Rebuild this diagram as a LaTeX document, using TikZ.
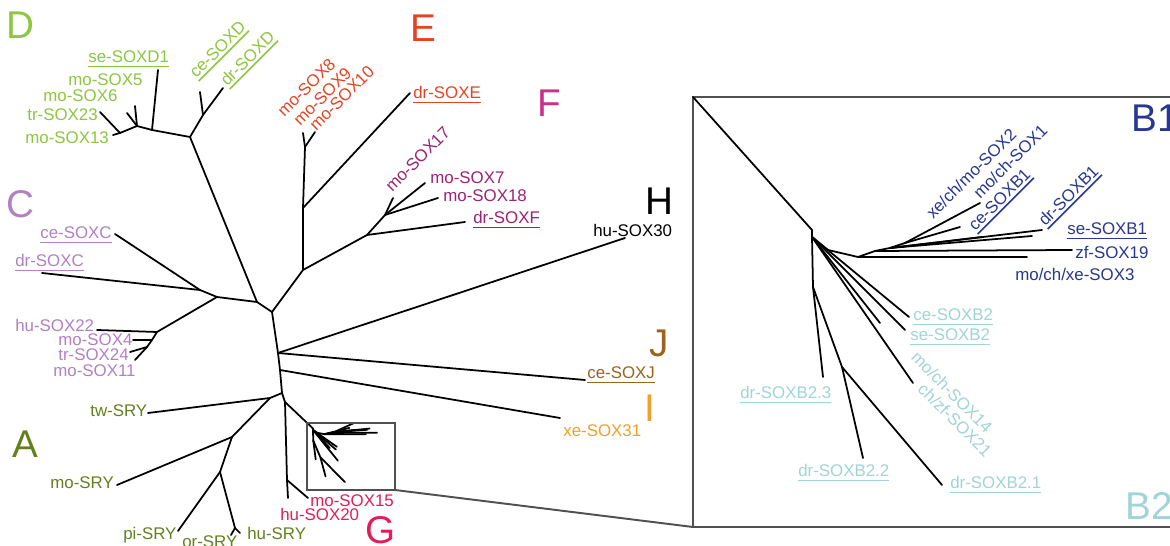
\documentclass[tikz,border=0pt]{standalone}
\usepackage{fontspec}
\setmainfont{Liberation Sans}
\definecolor{cD}{RGB}{141,198,63}
\definecolor{cE}{RGB}{228,68,35}
\definecolor{cFl}{RGB}{200,50,140}
\definecolor{cF}{RGB}{155,35,115}
\definecolor{cC}{RGB}{178,128,195}
\definecolor{cA}{RGB}{100,128,30}
\definecolor{cG}{RGB}{225,30,90}
\definecolor{cJ}{RGB}{155,100,25}
\definecolor{cI}{RGB}{240,160,40}
\definecolor{cBa}{RGB}{40,55,145}
\definecolor{cBb}{RGB}{160,212,214}
\definecolor{boxgray}{RGB}{80,80,80}
\newcommand\ulab[1]{\setbox0\hbox{#1}\rlap{\rule[-2.4pt]{\wd0}{0.9pt}}\box0}
\newcommand\btree[1]{%
  \coordinate (#1top) at (812,230);
  \coordinate (#1b0) at (812,237);
  \coordinate (#1bv) at (813,287);
  \coordinate (#1bq) at (842,367);
  \coordinate (#1b1) at (828,250);
  \coordinate (#1b2) at (858,257);
  \coordinate (#1b3) at (875,251);
  \coordinate (#1b4) at (890,248);
  \coordinate (#1b5) at (905,243);
  \coordinate (#1e1) at (823,377);
  \coordinate (#1e2) at (863,458);
  \coordinate (#1e3) at (942,485);
  \coordinate (#1e4) at (880,323);
  \coordinate (#1e5) at (905,330);
  \coordinate (#1e6) at (909,317);
  \coordinate (#1e7) at (913,383);
  \coordinate (#1e8) at (1027,257);
  \coordinate (#1e9) at (1072,250);
  \coordinate (#1e10) at (1032,236);
  \coordinate (#1e11) at (1042,230);
  \coordinate (#1e12) at (982,237);
  \coordinate (#1e13) at (960,227);
  \coordinate (#1e14) at (980,203);
  \draw[br] (#1top) -- (#1b0) -- (#1bv) -- (#1e1);
  \draw[br] (#1bv) -- (#1bq) -- (#1e2);
  \draw[br] (#1bq) -- (#1e3);
  \draw[br] (#1b0) -- (#1e4);
  \draw[br] (#1b0) -- (#1e5);
  \draw[br] (#1b0) -- (#1e6);
  \draw[br] (#1b0) -- (#1e7);
  \draw[br] (#1b0) -- (#1b1) -- (#1b2) -- (#1e8);
  \draw[br] (#1b2) -- (#1b3) -- (#1e9);
  \draw[br] (#1b3) -- (#1b4) -- (#1e10);
  \draw[br] (#1b4) -- (#1e11);
  \draw[br] (#1b4) -- (#1e12);
  \draw[br] (#1b4) -- (#1b5) -- (#1e13);
  \draw[br] (#1b5) -- (#1e14);
}
\tikzset{
  br/.style={line width=1pt, black, line cap=round, line join=round},
  lab/.style={font=\fontsize{9.6}{11}\selectfont, inner sep=0pt, anchor=base west},
  rlab/.style={font=\fontsize{9.6}{11}\selectfont, inner sep=0pt},
  big/.style={font=\fontsize{22}{24}\selectfont, inner sep=0pt, anchor=base west},
  bx/.style={line width=1.1pt, draw=boxgray},
}
\begin{document}
\begin{tikzpicture}[x=0.02cm, y=-0.02cm]
\fill[white] (0,0) rectangle (1170,546);
\clip (0,0) rectangle (1170,546);

% ---------- main tree coordinates ----------
\coordinate (X) at (257,302);
\coordinate (R1) at (272,312);
\coordinate (R2) at (303,270);
\coordinate (R3) at (278,353);
\coordinate (R4) at (280,370);
\coordinate (R5) at (282,393);
% D
\coordinate (D0) at (190,137);
\coordinate (D1) at (152,130);
\coordinate (D2) at (137,126);
\coordinate (D3) at (120,133);
\coordinate (D4) at (203,115);
\coordinate (dL1) at (158,70);
\coordinate (dL2) at (135,106);
\coordinate (dL3) at (127,113);
\coordinate (dL4) at (100,112);
\coordinate (dL5) at (113,135);
\coordinate (dL6) at (200,92);
\coordinate (dL7) at (223,88);
% E
\coordinate (E1) at (303,208);
\coordinate (E2) at (305,147);
\coordinate (eL1) at (303,133);
\coordinate (eL2) at (315,132);
\coordinate (eL3) at (410,93);
% F
\coordinate (F1) at (367,235);
\coordinate (F2) at (385,215);
\coordinate (fL1) at (465,222);
\coordinate (fL2) at (393,198);
\coordinate (fL3) at (425,183);
\coordinate (fL4) at (438,198);
% H J I
\coordinate (hL) at (625,238);
\coordinate (jL) at (585,380);
\coordinate (iL) at (560,418);
% C
\coordinate (C0) at (217,297);
\coordinate (C1) at (200,290);
\coordinate (C2) at (157,332);
\coordinate (C3) at (152,340);
\coordinate (C4) at (147,347);
\coordinate (cL1) at (115,234);
\coordinate (cL2) at (42,273);
\coordinate (cL3) at (97,330);
\coordinate (cL4) at (133,340);
\coordinate (cL5) at (130,352);
\coordinate (cL6) at (135,360);
% A
\coordinate (A1) at (270,398);
\coordinate (A2) at (232,437);
\coordinate (A3) at (220,472);
\coordinate (A4) at (235,528);
\coordinate (aL1) at (148,413);
\coordinate (aL2) at (117,485);
\coordinate (aL3) at (178,531);
\coordinate (aL4) at (231,535);
\coordinate (aL5) at (240,533);
% G
\coordinate (G0) at (285,402);
\coordinate (G1) at (287,480);
\coordinate (gL1) at (288,498);
\coordinate (gL2) at (308,498);

% ---------- branches ----------
\draw[br] (X) -- (R1) -- (R2);
\draw[br] (R1) -- (R3) -- (R4) -- (R5);
\draw[br] (X) -- (D0) -- (D1) -- (dL1);
\draw[br] (D1) -- (D2) -- (dL2);
\draw[br] (D2) -- (dL3);
\draw[br] (D2) -- (D3) -- (dL4);
\draw[br] (D3) -- (dL5);
\draw[br] (D0) -- (D4) -- (dL6);
\draw[br] (D4) -- (dL7);
\draw[br] (R2) -- (E1) -- (E2) -- (eL1);
\draw[br] (E2) -- (eL2);
\draw[br] (E1) -- (eL3);
\draw[br] (R2) -- (F1) -- (fL1);
\draw[br] (F1) -- (F2) -- (fL2);
\draw[br] (F2) -- (fL3);
\draw[br] (F2) -- (fL4);
\draw[br] (R3) -- (hL);
\draw[br] (R3) -- (jL);
\draw[br] (R4) -- (iL);
\draw[br] (X) -- (C0) -- (C1) -- (cL1);
\draw[br] (C1) -- (cL2);
\draw[br] (C0) -- (C2) -- (cL3);
\draw[br] (C2) -- (C3) -- (cL4);
\draw[br] (C3) -- (C4) -- (cL5);
\draw[br] (C4) -- (cL6);
\draw[br] (R5) -- (A1) -- (aL1);
\draw[br] (A1) -- (A2) -- (aL2);
\draw[br] (A2) -- (A3) -- (aL3);
\draw[br] (A3) -- (A4) -- (aL4);
\draw[br] (A4) -- (aL5);
\draw[br] (R5) -- (G0) -- (G1) -- (gL1);
\draw[br] (G1) -- (gL2);

% ---------- small box with miniature ----------
\begin{scope}[shift={(313,430)}, xscale=0.246, yscale=0.21, shift={(-812,-237)}]
  \btree{m}
\end{scope}
\draw[br] (G0) -- (mtop);
\coordinate (sbTL) at (307,423);
\coordinate (sbBR) at (395,490);
\draw[bx] (sbTL) rectangle (sbBR);

% ---------- big inset ----------
\coordinate (bbTL) at (693,97);
\coordinate (bbBL) at (693,527);
\coordinate (bbTR) at (1180,97);
\coordinate (bbBR) at (1180,527);
\draw[bx] (bbTR) -- (bbTL) -- (bbBL) -- (bbBR);
\draw[bx] (sbBR) -- (bbBL);
\btree{k}
\draw[br] (bbTL) -- (ktop);

% ---------- labels ----------
% D
\node[big, cD] (tD) at (6,39) {D};
\node[lab, cD] (l1) at (88,63) {\ulab{se-SOXD1}};
\node[lab, cD] (l2) at (68,86) {mo-SOX5};
\node[lab, cD] (l3) at (43,102) {mo-SOX6};
\node[lab, cD] (l4) at (27,121) {tr-SOX23};
\node[lab, cD] (l5) at (25,144) {mo-SOX13};
\node[lab, cD, rotate=45] (l6) at (196,79) {\ulab{ce-SOXD}};
\node[lab, cD, rotate=45] (l7) at (227,87) {\ulab{dr-SOXD}};
% E
\node[big, cE] (tE) at (410,42) {E};
\node[lab, cE, rotate=45] (l8) at (284,118) {mo-SOX8};
\node[lab, cE, rotate=45] (l9) at (300,127) {mo-SOX9};
\node[lab, cE, rotate=45] (l10) at (316,132) {mo-SOX10};
\node[lab, cE] (l11) at (413,99) {\ulab{dr-SOXE}};
% F
\node[big, cFl] (tF) at (537,117) {F};
\node[lab, cF, rotate=45] (l12) at (392,193) {mo-SOX17};
\node[lab, cF] (l13) at (430,184) {mo-SOX7};
\node[lab, cF] (l14) at (443,202) {mo-SOX18};
\node[lab, cF] (l15) at (473,224) {\ulab{dr-SOXF}};
% H J I
\node[big, black] (tH) at (645,215) {H};
\node[lab, black] (l16) at (593,237) {hu-SOX30};
\node[big, cJ] (tJ) at (649,357) {J};
\node[lab, cJ] (l17) at (587,379) {\ulab{ce-SOXJ}};
\node[big, cI] (tI) at (644,422) {I};
\node[lab, cI] (l18) at (563,437) {xe-SOX31};
% C
\node[big, cC] (tC) at (6,218) {C};
\node[lab, cC] (l19) at (40,239) {\ulab{ce-SOXC}};
\node[lab, cC] (l20) at (15,267) {\ulab{dr-SOXC}};
\node[lab, cC] (l21) at (15,332) {hu-SOX22};
\node[lab, cC] (l22) at (58,346) {mo-SOX4};
\node[lab, cC] (l23) at (58,361) {tr-SOX24};
\node[lab, cC] (l24) at (53,377) {mo-SOX11};
% A
\node[big, cA] (tA) at (12,458) {A};
\node[lab, cA] (l25) at (90,417) {tw-SRY};
\node[lab, cA] (l26) at (50,489) {mo-SRY};
\node[lab, cA] (l27) at (123,540) {pi-SRY};
\node[lab, cA] (l28) at (182,548) {or-SRY};
\node[lab, cA] (l29) at (247,540) {hu-SRY};
% G
\node[lab, cG] (l30) at (310,507) {mo-SOX15};
\node[lab, cG] (l31) at (280,521) {hu-SOX20};
\node[big, cG] (tG) at (365,544) {G};
% B1
\node[big, cBa] (tB1) at (1131,132) {B1};
\node[lab, cBa, rotate=45] (l32) at (933,220) {xe/ch/mo-SOX2};
\node[lab, cBa, rotate=45] (l33) at (980,200) {mo/ch-SOX1};
\node[lab, cBa, rotate=45] (l34) at (975,232) {\ulab{ce-SOXB1}};
\node[lab, cBa, rotate=45] (l35) at (1045,227) {\ulab{dr-SOXB1}};
\node[lab, cBa] (l36) at (1067,235) {\ulab{se-SOXB1}};
\node[lab, cBa] (l37) at (1075,259) {zf-SOX19};
\node[lab, cBa] (l38) at (1015,281) {mo/ch/xe-SOX3};
% B2
\node[big, cBb] (tB2) at (1125,520) {B2};
\node[lab, cBb] (l39) at (913,321) {\ulab{ce-SOXB2}};
\node[lab, cBb] (l40) at (910,341) {\ulab{se-SOXB2}};
\node[rlab, cBb, rotate=-45] (l41) at (952,392) {mo/ch-SOX14};
\node[rlab, cBb, rotate=-45] (l42) at (955,420) {ch/zf-SOX21};
\node[lab, cBb] (l43) at (740,399) {\ulab{dr-SOXB2.3}};
\node[lab, cBb] (l44) at (798,477) {\ulab{dr-SOXB2.2}};
\node[lab, cBb] (l45) at (950,489) {\ulab{dr-SOXB2.1}};
\end{tikzpicture}
\end{document}
